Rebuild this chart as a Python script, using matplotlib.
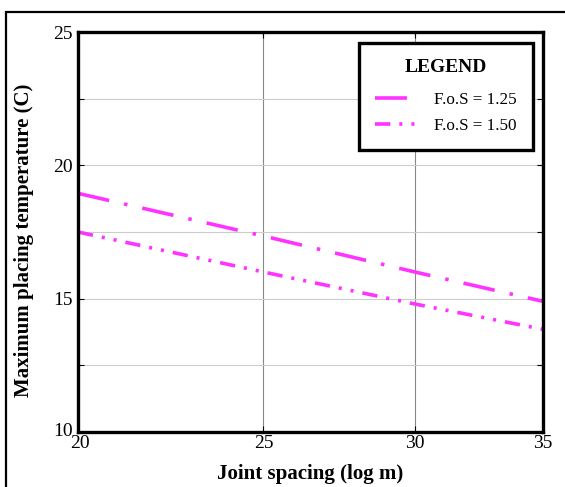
import matplotlib
matplotlib.use("Agg")
import matplotlib.pyplot as plt
from matplotlib.ticker import FixedLocator, NullFormatter, FixedFormatter
from matplotlib.patches import Rectangle
import matplotlib.transforms as mtransforms

plt.rcParams['font.family'] = ['Liberation Serif', 'DejaVu Serif']
plt.rcParams['lines.scale_dashes'] = False

joint_spacing = [20, 25, 30, 35]
fos_125 = [18.95, 17.35, 16.0, 14.9]
fos_150 = [17.5, 16.0, 14.8, 13.85]
series_labels = ["F.o.S = 1.25", "F.o.S = 1.50"]
x_ticks = [20, 25, 30, 35]
y_ticks = [10, 15, 20, 25]
y_minor = [12.5, 17.5, 22.5]

fig = plt.figure(figsize=(5.65, 4.87), dpi=100)
ax = fig.add_axes([78/565, 55/487, 465/565, 400/487])

color = '#ff33ff'
ax.plot(joint_spacing, fos_125, color=color, lw=2.6,
        linestyle=(0, (23, 11, 2.5, 11)), label=series_labels[0])
ax.plot(joint_spacing, fos_150, color=color, lw=2.6,
        linestyle=(0, (11, 6.5, 2.2, 6.5, 2.2, 6.5)), label=series_labels[1])

ax.set_xscale('log')
ax.set_xlim(20, 35)
ax.set_ylim(10, 25)
ax.xaxis.set_major_locator(FixedLocator(x_ticks))
ax.xaxis.set_major_formatter(FixedFormatter([str(v) for v in x_ticks]))
ax.xaxis.set_minor_locator(FixedLocator([]))
ax.xaxis.set_minor_formatter(NullFormatter())
ax.yaxis.set_major_locator(FixedLocator(y_ticks))
ax.yaxis.set_minor_locator(FixedLocator(y_minor))

ax.grid(True, which='major', axis='x', color='#888888', lw=0.8)
ax.grid(True, which='both', axis='y', color='#cccccc', lw=0.8)
ax.set_axisbelow(True)

ax.tick_params(which='both', direction='in', length=4, width=0.8, labelsize=14,
               top=True, right=True)
ax.tick_params(axis='x', pad=2)
ax.tick_params(axis='y', pad=4)
for s in ax.spines.values():
    s.set_linewidth(2.4)

ax.set_xlabel("Joint spacing (log m)", fontsize=15, fontweight='bold', labelpad=9)
ax.set_ylabel("Maximum placing temperature (C)", fontsize=15, fontweight='bold')
ax.yaxis.set_label_coords(-0.094, 0.48)

leg = ax.legend(loc='upper right', bbox_to_anchor=(0.978, 0.9725), borderaxespad=0,
                title="LEGEND",
                fontsize=12.3, handlelength=2.45, handletextpad=1.0,
                borderpad=0.95, labelspacing=0.6, fancybox=False,
                framealpha=1, edgecolor='black')
leg.get_title().set_fontweight('bold')
leg.get_title().set_fontsize(14)
leg.get_frame().set_linewidth(2.4)
leg._legend_box.sep = 11

fig.canvas.draw()
# nudge the bottom y tick label up slightly so it does not touch the "20"
lab = ax.yaxis.get_majorticklabels()[0]
lab.set_transform(lab.get_transform() + mtransforms.ScaledTranslation(0, 3/100, fig.dpi_scale_trans))
for t in ax.xaxis.get_majorticklabels()[:1]:
    t.set_transform(t.get_transform() + mtransforms.ScaledTranslation(2/100, 0, fig.dpi_scale_trans))

fig.patches.append(Rectangle((6/565, -0.1), 1.2, (475/487) + 0.1, transform=fig.transFigure,
                             fill=False, edgecolor='black', lw=1.6, zorder=0))

fig.savefig("out.png", dpi=100)
